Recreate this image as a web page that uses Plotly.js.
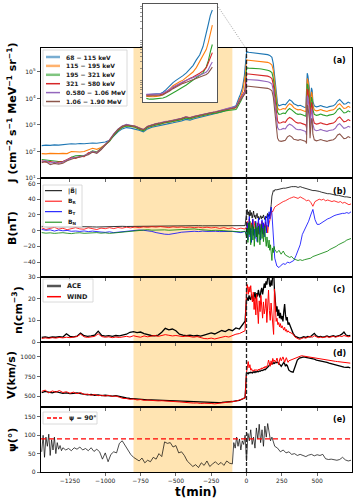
<!DOCTYPE html>
<html>
<head>
<meta charset="utf-8">
<script src="https://cdn.plot.ly/plotly-3.0.1.min.js"></script>
<style>html,body{margin:0;padding:0;background:#fff}#chart{width:357px;height:503px}</style>
</head>
<body>
<div id="chart"></div>
<script>
// ---------- data ----------
// panel (a): log10 of electron flux J, per energy channel
var T_A = [-1450,-1420,-1390,-1360,-1330,-1300,-1270,-1240,-1210,-1180,-1150,-1120,-1090,-1060,-1030,-1000,-970,-940,-910,-880,-850,-820,-790,-760,-730,-700,-670,-640,-610,-580,-550,-520,-490,-460,-430,-400,-370,-340,-310,-280,-250,-220,-190,-160,-130,-100,
  -95,-90,-85,-80,-75,-70,-65,-60,-55,-50,-45,-40,-35,-30,-25,-20,-15,-10,-7,-4,-1,
  1,15,30,45,60,75,90,105,120,135,150,165,180,190,200,210,220,230,245,260,275,290,305,320,335,350,365,380,395,410,420,425,430,435,440,445,450,455,460,465,470,480,495,510,525,540,555,570,585,600,615,630,645,660,675,690,705,720,735];

var logJ_68_115 = [2.22,2.24,2.23,2.25,2.24,2.26,2.27,2.29,2.28,2.30,2.29,2.31,2.32,2.31,2.33,2.36,
  2.42,2.58,2.74,2.85,2.90,2.88,2.85,2.80,2.74,2.85,2.91,2.95,2.98,3.03,3.05,3.08,3.11,3.15,3.21,3.18,3.23,3.27,3.31,3.33,3.37,3.41,3.47,3.52,3.59,3.66,
  3.67,3.67,3.68,3.68,3.72,3.79,3.88,3.96,4.02,4.07,4.13,4.20,4.28,4.38,4.52,4.64,4.85,5.15,5.40,5.62,5.75,
  5.77,5.74,5.73,5.72,5.72,5.71,5.70,5.69,5.68,5.66,5.65,5.62,5.55,5.30,4.80,4.20,3.80,3.72,
  3.74,3.78,3.76,3.88,3.95,3.90,3.80,3.76,3.72,3.74,3.70,3.66,
  3.64,4.30,4.95,4.85,4.60,4.40,3.80,4.05,4.40,4.30,3.90,
  3.72,3.68,3.70,3.73,3.70,3.68,3.66,3.69,3.70,3.72,3.78,3.90,3.96,3.88,3.78,3.80,3.86,3.82];
var logJ_115_195 = [1.92,1.91,1.93,1.92,1.92,1.93,1.92,2.00,1.99,1.98,2.00,2.05,2.12,2.08,2.15,2.26,
  2.41,2.63,2.79,2.91,2.97,2.95,2.92,2.85,2.79,2.91,2.97,3.01,3.05,3.09,3.11,3.14,3.17,3.21,3.27,3.24,3.29,3.33,3.37,3.39,3.43,3.46,3.51,3.55,3.59,3.62,
  3.61,3.61,3.62,3.63,3.66,3.72,3.80,3.88,3.94,3.98,4.02,4.08,4.15,4.22,4.33,4.47,4.62,4.78,4.95,5.15,5.38,
  5.45,5.44,5.43,5.43,5.42,5.42,5.41,5.40,5.38,5.37,5.36,5.33,5.26,5.05,4.60,4.05,3.65,3.57,
  3.58,3.62,3.60,3.72,3.80,3.75,3.65,3.60,3.57,3.58,3.55,3.52,
  3.50,4.10,4.75,4.68,4.45,4.25,3.65,3.90,4.25,4.15,3.75,
  3.57,3.53,3.55,3.58,3.55,3.53,3.51,3.54,3.55,3.57,3.63,3.75,3.80,3.72,3.62,3.64,3.70,3.66];
var logJ_195_321 = [1.70,1.68,1.66,1.63,1.62,1.62,1.66,1.78,1.84,1.85,1.84,1.92,2.02,1.98,2.12,2.24,
  2.38,2.60,2.78,2.90,2.96,2.94,2.91,2.84,2.78,2.90,2.96,3.00,3.03,3.08,3.10,3.13,3.16,3.20,3.26,3.23,3.28,3.32,3.36,3.38,3.42,3.44,3.49,3.52,3.55,3.57,
  3.55,3.55,3.56,3.56,3.58,3.61,3.65,3.70,3.75,3.80,3.84,3.90,3.96,4.02,4.07,4.13,4.20,4.35,4.50,4.72,4.90,
  5.15,5.14,5.14,5.13,5.13,5.12,5.12,5.11,5.10,5.08,5.06,5.03,4.97,4.75,4.35,3.85,3.48,3.40,
  3.41,3.45,3.43,3.55,3.62,3.57,3.48,3.43,3.40,3.41,3.38,3.35,
  3.33,3.60,4.55,4.50,4.25,4.05,3.48,3.70,4.05,3.95,3.58,
  3.40,3.36,3.38,3.41,3.38,3.36,3.34,3.37,3.38,3.40,3.46,3.58,3.63,3.55,3.45,3.47,3.53,3.49];
var logJ_321_580 = [1.65,1.60,1.62,1.58,1.60,1.62,1.70,1.78,1.74,1.82,1.80,1.95,1.98,1.96,2.10,2.25,
  2.42,2.64,2.82,2.94,3.00,2.97,2.95,2.88,2.82,2.94,3.00,3.04,3.07,3.12,3.14,3.17,3.20,3.24,3.30,3.27,3.32,3.36,3.40,3.42,3.46,3.49,3.54,3.58,3.62,3.65,
  3.65,3.65,3.66,3.66,3.68,3.72,3.77,3.83,3.88,3.93,3.98,4.02,4.06,4.10,4.14,4.19,4.25,4.33,4.45,4.58,4.70,
  4.92,4.92,4.91,4.91,4.90,4.90,4.89,4.88,4.87,4.86,4.84,4.81,4.75,4.52,4.10,3.55,3.15,3.07,
  3.08,3.12,3.10,3.22,3.28,3.24,3.15,3.10,3.07,3.08,3.05,3.02,
  3.00,2.90,4.35,4.30,4.05,3.85,3.15,3.45,3.85,3.75,3.28,
  3.07,3.03,3.05,3.08,3.05,3.03,3.01,3.04,3.05,3.07,3.13,3.25,3.30,3.22,3.12,3.14,3.20,3.16];
var logJ_580_1060 = [1.62,1.66,1.56,1.60,1.55,1.60,1.68,1.75,1.78,1.80,1.85,1.90,2.00,1.95,2.08,2.24,
  2.44,2.66,2.84,2.96,3.02,2.99,2.96,2.89,2.83,2.95,3.01,3.05,3.08,3.13,3.15,3.18,3.21,3.25,3.31,3.28,3.33,3.37,3.41,3.43,3.47,3.50,3.55,3.59,3.63,3.67,
  3.67,3.67,3.68,3.68,3.70,3.74,3.79,3.85,3.90,3.94,3.98,4.02,4.05,4.08,4.11,4.14,4.18,4.22,4.28,4.38,4.47,
  4.71,4.71,4.70,4.70,4.69,4.69,4.68,4.67,4.66,4.65,4.63,4.60,4.54,4.30,3.88,3.30,2.90,2.82,
  2.83,2.87,2.85,2.97,3.03,2.99,2.90,2.85,2.82,2.83,2.80,2.77,
  2.75,2.62,4.10,4.05,3.80,3.60,2.90,3.20,3.60,3.50,3.03,
  2.82,2.78,2.80,2.83,2.80,2.78,2.76,2.79,2.80,2.82,2.88,3.00,3.05,2.97,2.87,2.89,2.95,2.91];
var logJ_1060_1900 = [1.58,1.62,1.50,1.55,1.52,1.56,1.65,1.72,1.76,1.78,1.82,1.88,1.98,1.93,2.06,2.22,
  2.42,2.65,2.83,2.95,3.00,2.98,2.95,2.88,2.82,2.94,3.00,3.04,3.07,3.12,3.14,3.17,3.20,3.24,3.30,3.27,3.32,3.36,3.40,3.42,3.46,3.49,3.53,3.57,3.60,3.63,
  3.63,3.63,3.64,3.64,3.66,3.70,3.75,3.81,3.86,3.90,3.94,3.97,4.00,4.03,4.06,4.09,4.12,4.16,4.20,4.27,4.34,
  4.46,4.46,4.45,4.45,4.44,4.44,4.43,4.42,4.41,4.40,4.38,4.35,4.29,4.05,3.55,2.95,2.50,2.40,
  2.38,2.40,2.42,2.55,2.60,2.55,2.46,2.44,2.42,2.45,2.42,2.40,
  2.38,2.30,3.75,3.70,3.45,3.25,2.50,2.85,3.25,3.15,2.65,
  2.44,2.40,2.42,2.45,2.42,2.40,2.38,2.41,2.42,2.44,2.50,2.62,2.66,2.58,2.48,2.50,2.56,2.52];
var ENERGY_LABELS = ['68 \u2212 115 keV','115 \u2212 195 keV','195 \u2212 321 keV','321 \u2212 580 keV','0.580 \u2212 1.06 MeV','1.06 \u2212 1.90 MeV'];

// panel (b): magnetic field, nT
var T_B = [-1450,-1420,-1390,-1360,-1330,-1300,-1270,-1240,-1210,-1180,-1150,-1120,-1090,-1060,-1030,-1000,-970,-940,-910,-880,-850,-820,-790,-760,-730,-700,-670,-640,-610,-580,-550,-520,-490,-460,-430,-400,-370,-340,-310,-280,-250,-220,-190,-160,-130,-100,-70,-40,-10,
  0,5,10,15,20,25,30,35,40,45,50,55,60,65,70,75,80,85,90,95,100,105,110,115,120,125,130,135,140,145,150,155,160,165,170,175,180,185,190,195,200,
  215,230,245,260,275,290,305,320,335,350,365,380,395,410,425,440,455,470,485,500,515,530,545,560,575,590,605,620,635,650,665,680,695,710,725,740];
var B_mag = [5.4,5.0,4.8,5.2,4.6,4.9,5.1,4.8,4.7,4.9,5.0,5.2,4.8,4.6,4.9,5.1,5.3,5.2,5.4,5.5,5.3,5.4,5.6,5.5,5.7,5.8,6.0,5.9,6.1,6.2,6.0,6.1,6.3,6.2,6.0,6.1,6.2,6.3,6.1,6.2,6.3,6.2,6.4,6.3,6.2,6.4,6.3,6.5,6.4,
  22,27,20,24,18,26,19,23,16,21,25,17,20,15,19,22,16,18,14,17,19,15,18,16,20,17,14,18,16,19,22,18,21,19,24,33,44,50,51,50,52,
  52,53,53,54,54,55,55,56,56,56,55,56,55,54,53,53,52,51,51,50,50,49,48,48,47,47,46,46,45,45,44,44,43,43,42,42];
var B_R = [3.5,1.5,2.8,4.2,2.0,3.0,1.2,2.5,3.8,2.2,1.8,3.6,2.9,1.4,3.2,2.5,3.8,2.6,4.0,3.1,4.4,3.5,4.6,3.8,4.8,4.2,5.0,4.5,5.2,4.6,3.9,4.8,4.1,4.7,4.0,4.5,3.8,4.4,3.6,4.3,3.5,4.1,2.8,3.9,2.5,3.6,1.8,3.2,2.0,
  5,12,-3,8,15,2,-6,10,4,14,-2,6,12,0,-8,5,10,-4,3,9,-2,6,12,2,-5,8,4,11,0,7,-3,5,10,14,18,22,25,24,27,29,30,
  32,34,35,37,38,40,41,42,43,42,41,43,42,40,38,39,36,31,37,39,40,39,40,38,39,38,37,38,37,36,37,35,36,34,33,34];
var B_T = [1.5,0.5,1.0,-0.5,0.8,-0.2,0.3,-0.8,-0.5,-1.0,-0.4,-1.2,-0.6,-1.5,-1.8,-2.2,-1.5,-2.5,-1.8,-2.0,-1.0,-0.5,0.2,0.8,0.5,0.0,-1.0,-2.5,-3.8,-4.5,-4.8,-4.2,-3.0,-2.0,-1.5,-1.0,-0.8,-1.2,-0.6,-1.0,-0.5,-0.8,-1.2,-0.9,-1.5,-1.0,-1.8,-2.5,-1.0,
  -5,10,-12,5,18,-8,3,-15,8,15,-6,2,-10,12,4,-14,6,16,-5,8,-12,3,14,-4,10,-8,5,18,-3,12,20,5,24,15,28,30,22,10,-10,-25,-35,
  -45,-47,-44,-42,-43,-40,-41,-39,-38,-32,-25,-18,-5,0,5,12,20,27,14,8,8,10,12,14,15,16,18,19,20,21,21,22,22,23,22,24];
var B_N = [-2.5,-3.2,-2.8,-3.5,-3.0,-2.6,-3.3,-3.8,-3.0,-2.7,-3.4,-2.9,-3.1,-2.5,-3.2,-2.8,-3.5,-3.0,-2.6,-2.2,-1.5,-1.0,-0.2,0.5,0.8,1.2,0.6,1.0,1.5,1.0,0.5,0.8,1.2,1.6,2.0,1.8,2.2,1.5,1.0,0.6,0.2,0.5,-0.2,0.0,-0.5,-0.8,-1.0,-1.5,-0.8,
  -8,3,-15,10,-5,12,-18,0,8,-12,5,-20,2,10,-8,4,-15,6,-3,-18,0,8,-10,3,-14,-5,6,-12,-20,-8,-15,-22,-12,-25,-18,-30,-38,-22,-28,-20,-24,
  -28,-25,-30,-26,-31,-33,-34,-33,-36,-37,-38,-37,-38,-37,-36,-36,-35,-33,-32,-31,-30,-29,-28,-27,-26,-24,-23,-21,-20,-18,-17,-15,-14,-12,-11,-10];
var B_LABELS = ['|B\u20d7|','B<sub>R</sub>','B<sub>T</sub>','B<sub>N</sub>'];

// panels (c), (d): density and speed, ACE and WIND
var T_C = [-1450,-1425,-1400,-1375,-1350,-1325,-1300,-1275,-1250,-1225,-1200,-1175,-1150,-1125,-1100,-1075,-1050,-1025,-1000,-975,-950,-925,-900,-875,-850,-825,-800,-775,-750,-725,-700,-675,-650,-625,-600,-575,-550,-525,-500,-475,-450,-425,-400,-375,-350,-325,-300,-275,-250,-225,-200,-175,-150,-125,-100,-75,-50,-25,-10,
  0,6,12,18,24,30,36,42,48,54,60,66,72,78,84,90,96,102,108,114,120,126,132,138,144,150,156,162,168,174,180,186,192,198,204,210,216,222,228,234,240,246,252,258,264,270,276,282,288,294,300,
  315,330,345,360,375,390,405,420,435,450,465,480,495,510,525,540,555,570,585,600,615,630,645,660,675,690,705,720,735];
var n_ACE = [2.1,2.4,2.0,2.3,2.2,2.5,2.3,3.8,2.6,2.4,2.7,4.1,2.9,2.6,2.8,3.2,5.0,3.0,2.7,2.9,2.6,3.0,2.8,3.1,3.6,4.5,4.8,4.3,4.6,3.9,3.4,3.0,2.8,3.2,4.5,6.3,5.6,6.0,5.2,3.6,3.2,2.9,3.1,2.8,3.0,2.7,3.2,3.8,4.2,3.7,4.5,5.3,4.8,5.8,5.2,6.5,6.0,8.4,9.6,
  19.5,20.5,19.0,21.5,20.0,19.5,22.0,20.5,19.0,21.0,23.0,20.0,22.5,21.0,24.0,22.0,20.5,23.5,25.0,22.0,24.5,27.0,25.0,28.0,26.5,31.0,33.0,27.0,25.5,28.5,26.0,31.5,33.0,24.0,17.0,14.0,16.5,12.0,15.0,11.0,13.5,10.5,12.0,9.5,14.0,17.5,12.5,10.0,11.5,8.0,9.0,
  6.5,4.0,2.6,2.2,1.8,2.0,2.4,2.1,2.6,2.3,3.0,4.0,2.8,2.4,2.6,2.3,2.5,2.8,2.4,2.6,2.9,2.5,2.7,3.1,3.6,4.6,3.2,2.8,3.0];
var n_WIND = [1.6,1.9,1.7,2.0,1.8,2.1,1.9,2.2,2.0,2.3,2.5,3.6,2.4,2.1,2.3,2.6,3.8,2.5,2.2,2.4,2.0,2.3,2.1,2.4,2.6,2.3,2.9,2.5,2.2,2.8,2.4,2.7,3.0,2.6,2.9,3.4,3.1,2.8,3.0,2.7,2.5,2.8,2.4,2.2,2.5,2.0,1.6,1.5,1.8,1.4,1.7,2.0,2.6,2.3,3.0,3.6,3.9,4.6,5.2,
  24.0,26.5,22.0,25.5,23.0,26.0,21.0,18.5,23.0,15.0,20.5,12.5,22.0,17.0,8.5,19.0,14.0,21.5,16.0,11.0,18.5,13.0,15.5,20.0,9.0,17.0,24.0,14.5,10.0,18.0,12.0,6.0,3.5,24.5,12.0,9.5,11.0,8.0,9.0,7.0,8.5,6.5,7.5,6.0,5.5,6.8,5.0,5.8,4.5,5.2,4.6,
  4.2,3.6,2.2,1.5,1.2,1.6,2.0,1.8,2.3,2.6,2.2,2.9,2.4,2.0,2.3,2.0,2.2,2.5,2.1,2.3,2.6,2.2,2.4,2.8,2.5,3.0,2.7,2.4,2.6];
var V_ACE = [545,560,550,540,555,545,535,540,530,535,540,530,525,515,520,510,515,505,510,505,500,505,495,480,475,470,465,460,458,455,452,450,448,450,445,442,445,440,438,435,432,430,428,425,422,420,418,416,415,414,416,418,420,425,430,438,445,465,480,
  790,795,785,800,795,805,800,795,805,810,800,812,808,815,810,820,815,825,830,826,835,840,836,845,850,862,880,895,905,915,920,912,925,918,930,925,935,928,920,910,895,880,900,920,930,912,880,900,890,860,830,
  810,805,880,960,985,995,1000,995,990,985,975,970,960,955,950,945,940,930,920,912,905,895,890,885,880,870,865,870,860];
var V_WIND = [560,575,540,565,550,570,545,555,535,550,530,545,520,525,510,520,505,510,500,508,495,500,485,470,468,458,462,450,455,445,448,442,445,438,440,435,438,430,428,425,420,418,415,410,412,405,408,402,405,400,406,410,415,420,428,435,450,460,475,
  800,870,940,860,900,830,850,815,830,820,840,825,835,820,845,830,850,840,860,845,870,855,880,860,875,900,960,930,880,950,900,980,940,960,930,955,985,940,900,960,990,950,985,1000,970,930,960,990,960,930,950,
  960,975,985,1000,1010,1015,1010,1005,1000,995,990,985,980,975,970,965,962,958,955,950,947,943,940,937,934,930,928,925,920];
var SW_LABELS = ['ACE','WIND'];

// panel (e): angle psi, degrees
var T_E = [-1450,-1440,-1430,-1420,-1410,-1400,-1390,-1380,-1370,-1360,-1350,-1340,-1330,-1320,-1310,-1300,
  -1280,-1260,-1240,-1220,-1200,-1180,-1160,-1140,-1120,-1100,-1080,-1060,-1040,-1020,-1000,-980,-960,-940,-920,-900,-880,-860,-840,-820,-800,-780,-760,-740,-720,-700,-680,-660,-640,-620,-600,-580,-560,-540,-520,-500,-480,-460,-440,-420,-400,-380,-360,-340,-320,-300,-280,-260,-240,-220,-200,-180,-160,-140,-120,-100,
  -90,-80,-70,-60,-50,-40,-30,-20,-10,0,10,20,30,40,50,60,70,80,90,100,110,120,130,140,150,160,170,180,190,200,
  220,240,260,280,300,320,340,360,380,400,420,440,460,480,500,520,540,560,580,600,620,640,660,680,700,720,740];
var PSI = [55,100,40,95,70,103,45,88,60,95,50,80,62,72,58,66,
  60,64,58,66,62,68,60,64,58,66,56,62,55,35,52,28,48,55,52,78,85,72,62,48,40,35,30,38,25,32,28,40,35,50,42,82,78,80,68,72,52,55,45,30,22,15,20,12,25,18,30,15,22,28,20,26,18,30,24,22,
  80,65,95,70,90,60,85,75,100,30,105,85,115,75,95,65,120,90,130,80,115,70,125,95,132,105,85,95,78,70,
  65,55,60,52,55,48,50,45,48,44,42,46,48,44,47,45,48,36,34,35,33,32,34,40,33,30,32];
var PSI_REF = 90;
var SHADE = [-800, -100];

// ---------- helpers ----------
var FONT = 'DejaVu Sans';
var L = 41, R = 352, TOP = 4, BOT = 472;
function px(x) { return (x - L) / (R - L); }
function py(y) { return (BOT - y) / (BOT - TOP); }

var eColors = ['#1f77b4', '#ff7f0e', '#2ca02c', '#d62728', '#9467bd', '#8c564b'];
var fluxSeries = [logJ_68_115, logJ_115_195, logJ_195_321, logJ_321_580, logJ_580_1060, logJ_1060_1900];

function line(x, y, color, width, xa, ya) {
  return {x: x, y: y, type: 'scatter', mode: 'lines', hoverinfo: 'skip',
          line: {color: color, width: width}, xaxis: xa, yaxis: ya};
}

var traces = [];
fluxSeries.forEach(function (s, i) { traces.push(line(T_A, s, eColors[i], 1.1, 'x', 'y')); });

// inset: the last 100 min before the shock
var inIdx = [];
T_A.forEach(function (t, i) { if (t >= -100 && t < 0) inIdx.push(i); });
fluxSeries.forEach(function (s, i) {
  traces.push(line(inIdx.map(function (k) { return T_A[k]; }),
                   inIdx.map(function (k) { return s[k]; }), eColors[i], 1.1, 'x6', 'y6'));
});

traces.push(line(T_B, B_mag, '#000000', 0.8, 'x2', 'y2'));
traces.push(line(T_B, B_R, '#ff0000', 0.8, 'x2', 'y2'));
traces.push(line(T_B, B_T, '#0000ff', 0.8, 'x2', 'y2'));
traces.push(line(T_B, B_N, '#008000', 0.8, 'x2', 'y2'));

traces.push(line(T_C, n_ACE, '#000000', 1.3, 'x3', 'y3'));
traces.push(line(T_C, n_WIND, '#ff0000', 1.0, 'x3', 'y3'));
traces.push(line(T_C, V_ACE, '#000000', 1.3, 'x4', 'y4'));
traces.push(line(T_C, V_WIND, '#ff0000', 1.0, 'x4', 'y4'));

traces.push(line(T_E, PSI, '#000000', 0.7, 'x5', 'y5'));

// ---------- axes ----------
var tickFont = {family: FONT, size: 6, color: '#222'};
function xAx(anchor, labels) {
  return {anchor: anchor, domain: [0, 1], range: [-1455, 747], tick0: 0, dtick: 250,
          showgrid: false, zeroline: false, showline: true, mirror: true,
          linecolor: '#000', linewidth: 1.2, ticks: 'outside', ticklen: 3, tickwidth: 0.8,
          showticklabels: labels, tickfont: tickFont};
}
function yAx(anchor, dom, range, extra) {
  var o = {anchor: anchor, domain: dom, range: range, showgrid: false, zeroline: false,
           showline: true, mirror: true, linecolor: '#000', linewidth: 1.2,
           ticks: 'outside', ticklen: 3, tickwidth: 0.8, tickfont: tickFont};
  for (var k in extra) o[k] = extra[k];
  return o;
}

var layout = {
  width: 357, height: 503,
  margin: {l: L, r: 357 - R, t: TOP, b: 503 - BOT},
  paper_bgcolor: '#fff', plot_bgcolor: '#fff',
  showlegend: false,
  font: {family: FONT, color: '#000'},
  xaxis: xAx('y', false),
  xaxis2: xAx('y2', false),
  xaxis3: xAx('y3', false),
  xaxis4: xAx('y4', false),
  xaxis5: xAx('y5', true),
  yaxis: yAx('x', [py(178), py(48)], [1, 5.9],
             {tickvals: [1, 2, 3, 4, 5],
              ticktext: ['10<sup>1</sup>', '10<sup>2</sup>', '10<sup>3</sup>', '10<sup>4</sup>', '10<sup>5</sup>']}),
  yaxis2: yAx('x2', [py(277), py(178)], [-59, 67], {tickvals: [-40, -20, 0, 20, 40, 60]}),
  yaxis3: yAx('x3', [py(342), py(277)], [0, 30], {tickvals: [0, 10, 20, 30]}),
  yaxis4: yAx('x4', [py(407), py(342)], [360, 1190], {tickvals: [500, 750, 1000]}),
  yaxis5: yAx('x5', [0, py(407)], [0, 177], {tickvals: [0, 50, 100, 150]}),
  xaxis6: {anchor: 'y6', domain: [px(143), px(217)], range: [-105, 6], showgrid: false,
           zeroline: false, showline: true, mirror: true, linecolor: '#555', linewidth: 1,
           ticks: '', showticklabels: false},
  yaxis6: {anchor: 'x6', domain: [py(102), 1], range: [3.48, 5.9], showgrid: false,
           zeroline: false, showline: true, mirror: true, linecolor: '#555', linewidth: 1,
           ticks: 'outside', ticklen: 2, tickwidth: 0.6, tickcolor: '#555', showticklabels: false,
           tickvals: [3.6, 3.7, 3.78, 3.85, 3.9, 3.95, 4.0, 4.3, 4.48, 4.6, 4.7, 4.78, 4.85, 4.9, 4.95, 5.0, 5.3, 5.48, 5.6, 5.7, 5.78, 5.85]},
  shapes: [],
  annotations: []
};

var shapes = layout.shapes, ann = layout.annotations;

// orange interval and the white inset background
shapes.push({type: 'rect', xref: 'x', yref: 'paper', x0: SHADE[0], x1: SHADE[1], y0: 0, y1: py(48),
             fillcolor: 'rgba(255,165,0,0.3)', line: {width: 0}, layer: 'below'});
shapes.push({type: 'rect', xref: 'paper', yref: 'paper', x0: px(143), x1: px(217), y0: py(102), y1: 1,
             fillcolor: '#fff', line: {width: 0}, layer: 'below'});
// shock time
shapes.push({type: 'line', xref: 'x', yref: 'paper', x0: 0, x1: 0, y0: 0, y1: py(48),
             line: {color: '#222', width: 1.3, dash: '4px,2px'}, layer: 'above'});
// psi = 90 reference
shapes.push({type: 'line', xref: 'paper', yref: 'y5', x0: 0, x1: 1, y0: PSI_REF, y1: PSI_REF,
             line: {color: '#ff0000', width: 1.3, dash: '5px,3px'}, layer: 'above'});
// inset connector
shapes.push({type: 'line', xref: 'paper', yref: 'paper', x0: px(217), y0: py(5), x1: px(245), y1: py(47),
             line: {color: '#888', width: 0.8, dash: '1px,1.5px'}, layer: 'above'});

function legend(box, rows, size, tx) {
  shapes.push({type: 'rect', xref: 'paper', yref: 'paper', x0: px(box[0]), x1: px(box[1]),
               y0: py(box[3]), y1: py(box[2]), fillcolor: 'rgba(255,255,255,0.85)',
               line: {color: '#d0d0d0', width: 0.8}, layer: 'above'});
  rows.forEach(function (r) {
    shapes.push({type: 'line', xref: 'paper', yref: 'paper', x0: px(r.sx[0]), x1: px(r.sx[1]),
                 y0: py(r.y), y1: py(r.y), opacity: r.op || 1,
                 line: {color: r.color, width: r.w, dash: r.dash || 'solid'}, layer: 'above'});
    ann.push({xref: 'paper', yref: 'paper', x: px(tx), y: py(r.y), xanchor: 'left', yanchor: 'middle',
              text: '<b>' + r.label + '</b>', showarrow: false, font: {family: FONT, size: size, color: '#222'}});
  });
}

legend([43, 127, 50, 106], ENERGY_LABELS.map(function (lab, i) {
  return {label: lab, color: eColors[i], y: 57 + i * 8.9, sx: [46, 60],
          w: i < 3 ? 2.5 : 1.5, op: i < 3 ? 0.6 : 1};
}), 6, 64);
legend([43, 82, 185, 227], B_LABELS.map(function (lab, i) {
  return {label: lab, color: ['#000000', '#ff0000', '#0000ff', '#008000'][i], y: 190.7 + i * 10.5,
          sx: [45, 62], w: 1};
}), 6, 66);
legend([43, 93, 279, 302], SW_LABELS.map(function (lab, i) {
  return {label: lab, color: i === 0 ? '#555' : '#ff0000', y: 286 + i * 10.7, sx: [47, 61], w: i === 0 ? 2.5 : 1.5};
}), 6.5, 65);
legend([43, 97, 412, 424], [{label: '\u03c8 = 90\u00b0', color: '#ff0000', y: 418, sx: [47, 62], w: 1.3, dash: '4px,2px'}], 6.5, 67);

// panel tags
[['(a)', 60], ['(b)', 191], ['(c)', 289], ['(d)', 353], ['(e)', 419]].forEach(function (p) {
  ann.push({xref: 'paper', yref: 'paper', x: px(339), y: py(p[1]), xanchor: 'center', yanchor: 'middle',
            text: '<b>' + p[0] + '</b>', showarrow: false, font: {family: FONT, size: 8, color: '#000'}});
});

// axis titles
var titleFont = {family: FONT, size: 11, color: '#000'};
[['J (cm<sup>\u22122</sup> s<sup>\u22121</sup> MeV<sup>\u22121</sup> sr<sup>\u22121</sup>)', 12.5, 113],
 ['B(nT)', 13, 228], ['n(cm<sup>\u22123</sup>)', 17, 310], ['V(km/s)', 11, 375], ['\u03c8(\u00b0)', 12, 440]
].forEach(function (t) {
  ann.push({xref: 'paper', yref: 'paper', x: px(t[1]), y: py(t[2]), xanchor: 'center', yanchor: 'middle',
            textangle: -90, text: '<b>' + t[0] + '</b>', showarrow: false, font: titleFont});
});
ann.push({xref: 'paper', yref: 'paper', x: px(196), y: py(492), xanchor: 'center', yanchor: 'middle',
          text: '<b>t(min)</b>', showarrow: false, font: {family: FONT, size: 12, color: '#000'}});

Plotly.newPlot('chart', traces, layout, {displayModeBar: false, staticPlot: true});
</script>
</body>
</html>
